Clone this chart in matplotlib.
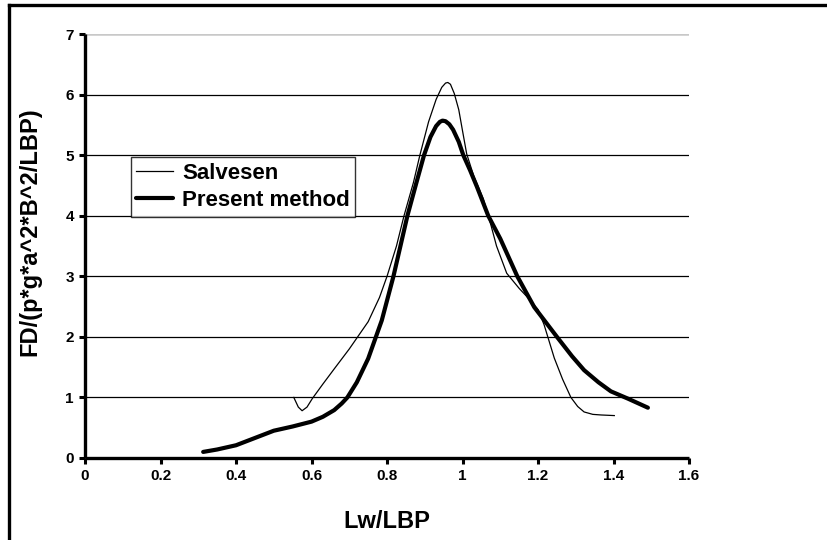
import matplotlib.pyplot as plt
from matplotlib.lines import Line2D

plt.rcParams["font.family"] = ["Liberation Sans", "DejaVu Sans"]
plt.rcParams["font.weight"] = "bold"

# Salvesen (thin line)
salvesen_x = [0.553, 0.565, 0.575, 0.588, 0.602, 0.63, 0.66, 0.70, 0.75, 0.78,
              0.80, 0.825, 0.845, 0.87, 0.887, 0.91, 0.93, 0.945, 0.955, 0.961,
              0.968, 0.978, 0.99, 1.0, 1.011, 1.03, 1.055, 1.075, 1.09, 1.117,
              1.15, 1.18, 1.20, 1.216, 1.243, 1.265, 1.287, 1.305, 1.322, 1.345,
              1.367, 1.402]
salvesen_y = [1.00, 0.84, 0.78, 0.84, 0.98, 1.22, 1.47, 1.80, 2.25, 2.65,
              3.00, 3.50, 4.00, 4.55, 5.00, 5.55, 5.92, 6.12, 6.19, 6.20,
              6.17, 6.02, 5.75, 5.40, 5.02, 4.65, 4.28, 3.85, 3.50, 3.05,
              2.80, 2.60, 2.45, 2.20, 1.65, 1.30, 1.00, 0.85, 0.76, 0.72,
              0.71, 0.70]

# Present method (thick line)
present_x = [0.313, 0.35, 0.40, 0.45, 0.50, 0.55, 0.60, 0.63, 0.66, 0.68,
             0.695, 0.72, 0.75, 0.786, 0.817, 0.854, 0.878, 0.898, 0.915, 0.93,
             0.94, 0.947, 0.955, 0.965, 0.975, 0.99, 1.002, 1.02, 1.038, 1.068,
             1.10, 1.145, 1.19, 1.25, 1.29, 1.322, 1.36, 1.393, 1.438, 1.491]
present_y = [0.10, 0.14, 0.21, 0.33, 0.45, 0.52, 0.60, 0.68, 0.79, 0.90,
             1.00, 1.25, 1.64, 2.27, 3.00, 4.00, 4.55, 5.00, 5.30, 5.48,
             5.55, 5.57, 5.56, 5.51, 5.42, 5.22, 5.00, 4.75, 4.48, 4.00,
             3.62, 3.00, 2.49, 2.00, 1.68, 1.45, 1.25, 1.10, 0.98, 0.83]

x_ticks = [0, 0.2, 0.4, 0.6, 0.8, 1, 1.2, 1.4, 1.6]
x_tick_labels = ["0", "0.2", "0.4", "0.6", "0.8", "1", "1.2", "1.4", "1.6"]
y_ticks = [0, 1, 2, 3, 4, 5, 6, 7]

fig = plt.figure(figsize=(8.27, 5.40), dpi=100)
ax = fig.add_axes([0.1028, 0.1519, 0.7304, 0.7851])

ax.plot(salvesen_x, salvesen_y, color="black", lw=0.9, label="Salvesen")
ax.plot(present_x, present_y, color="black", lw=3.0, label="Present method",
        solid_capstyle="round")

ax.set_xlim(0, 1.6)
ax.set_ylim(0, 7)
ax.set_xticks(x_ticks)
ax.set_xticklabels(x_tick_labels)
ax.set_yticks(y_ticks)

for side in ("top", "right"):
    ax.spines[side].set_visible(False)
for side in ("left", "bottom"):
    ax.spines[side].set_linewidth(2.4)
    ax.spines[side].set_capstyle("butt")

ax.tick_params(direction="out", length=4, width=2.2, labelsize=11, pad=4)
for lbl in ax.get_xticklabels() + ax.get_yticklabels():
    lbl.set_fontweight("bold")

ax.yaxis.grid(True, color="black", lw=0.9)
ax.set_axisbelow(True)
ax.get_ygridlines()[-1].set_color("#c8c8c8")
ax.get_ygridlines()[-1].set_linewidth(1.8)
ax.get_ygridlines()[0].set_visible(False)

ax.set_xlabel("Lw/LBP", fontsize=17, fontweight="bold")
ax.xaxis.set_label_coords(0.499, -0.122)
ax.set_ylabel("FD/(p*g*a^2*B^2/LBP)", fontsize=17, fontweight="bold")
ax.yaxis.set_label_coords(-0.072, 0.534)

leg = ax.legend(loc="upper left", bbox_to_anchor=(0.076, 0.71), fontsize=16,
                frameon=True, fancybox=False, borderaxespad=0, handlelength=1.65,
                handletextpad=0.4, borderpad=0.25, labelspacing=0.3)
leg.get_frame().set_edgecolor("black")
leg.get_frame().set_linewidth(1.0)
for txt in leg.get_texts():
    txt.set_fontweight("bold")

# outer frame along the left and top edges
fig.add_artist(Line2D([9 / 827, 9 / 827], [0, 1 - 5 / 540], color="black", lw=2.4,
                      transform=fig.transFigure, solid_capstyle="projecting"))
fig.add_artist(Line2D([9 / 827, 1], [1 - 5 / 540, 1 - 5 / 540], color="black", lw=2.4,
                      transform=fig.transFigure, solid_capstyle="projecting"))

fig.savefig("out.png", dpi=100)
